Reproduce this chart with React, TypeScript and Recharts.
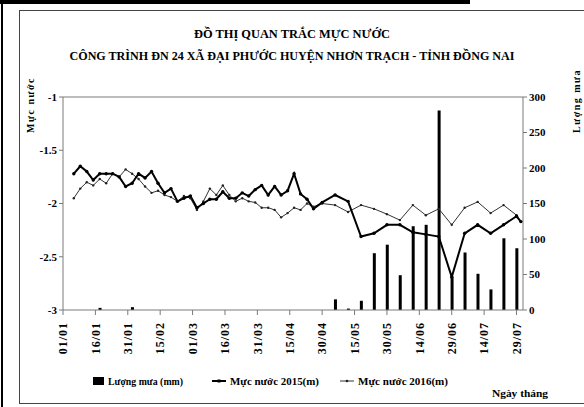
import {
  ComposedChart,
  Bar,
  Line,
  XAxis,
  YAxis,
  ReferenceLine,
} from 'recharts'

// ---------------------------------------------------------------------------
// Data (day = days since 01/01/2016)
// ---------------------------------------------------------------------------

const sampleDays = [
  5, 8, 11, 14, 17, 20, 23, 26, 29, 32, 35, 38, 41, 44, 47, 50, 53, 56, 59, 62,
  65, 68, 71, 74, 77, 80, 83, 86, 89, 92, 95, 98, 101, 104, 107, 110, 113, 116,
  120, 126, 132, 138, 144, 150, 156, 162, 168, 174, 180, 186, 192, 198, 204, 210, 212,
]

// Mực nước 2015 (m) – thick line
const level2015 = [
  -1.72, -1.65, -1.7, -1.78, -1.72, -1.72, -1.72, -1.75, -1.84, -1.81, -1.72, -1.76,
  -1.7, -1.81, -1.9, -1.86, -1.98, -1.95, -1.93, -2.04, -2.0, -1.96, -1.96, -1.89,
  -1.95, -1.95, -1.9, -1.93, -1.87, -1.83, -1.92, -1.84, -1.92, -1.88, -1.72, -1.91,
  -1.96, -2.05, -1.99, -1.92, -1.98, -2.31, -2.28, -2.2, -2.2, -2.27, -2.29, -2.31,
  -2.69, -2.28, -2.2, -2.28, -2.2, -2.12, -2.17,
]

// Mực nước 2016 (m) – thin line
const level2016 = [
  -1.95, -1.86, -1.8, -1.83, -1.77, -1.81, -1.72, -1.75, -1.68, -1.72, -1.77, -1.84,
  -1.9, -1.88, -1.92, -1.94, -1.98, -1.93, -1.95, -2.06, -1.98, -1.86, -1.92, -1.83,
  -1.92, -1.98, -1.95, -1.98, -1.99, -2.04, -2.04, -2.06, -2.13, -2.09, -2.04, -2.06,
  -2.0, -2.03, -2.0, -2.015, -2.08, -2.015, -2.05, -2.1, -2.156, -2.015, -2.11, -2.05,
  -2.2, -2.04, -1.985, -2.09, -2.015, -2.11, -2.17,
]

// Lượng mưa (mm)
const rainDays = [17, 32, 126, 132, 138, 144, 150, 156, 162, 168, 174, 180, 186, 192, 198, 204, 210]
const rainMm = [3, 4, 15, 2, 13, 80, 92, 49, 118, 120, 281, 47, 81, 51, 29, 101, 87]

const xTickDays = [0, 15, 30, 45, 60, 75, 90, 105, 120, 135, 150, 165, 180, 195, 210]
const xTickLabels = [
  '01/01', '16/01', '31/01', '15/02', '01/03', '16/03', '31/03', '15/04',
  '30/04', '15/05', '30/05', '14/06', '29/06', '14/07', '29/07',
]

const levelTicks = [-3, -2.5, -2, -1.5, -1]
const rainTicks = [0, 50, 100, 150, 200, 250, 300]

const chartData = sampleDays.map((day, i) => {
  const r = rainDays.indexOf(day)
  return {
    day,
    w2015: level2015[i],
    w2016: level2016[i],
    rain: r >= 0 ? rainMm[r] : null,
  }
})

const SERIF = '"Liberation Serif", "Times New Roman", serif'
const AXIS_GRAY = '#7a7a7a'

// ---------------------------------------------------------------------------
// Ticks
// ---------------------------------------------------------------------------

function DateTick({ x, y, payload }: any) {
  const idx = xTickDays.indexOf(payload.value)
  return (
    <g transform={`translate(${x},${y + 5})`}>
      <text
        transform="rotate(-90)"
        textAnchor="end"
        dy="0.35em"
        fontFamily={SERIF}
        fontWeight="bold"
        fontSize={12}
        letterSpacing={1}
        fill="#000"
      >
        {idx >= 0 ? xTickLabels[idx] : ''}
      </text>
    </g>
  )
}

const tickStyle = { fontSize: 11, fontWeight: 'bold', fill: '#000', fontFamily: SERIF }

// ---------------------------------------------------------------------------
// App
// ---------------------------------------------------------------------------

export default function App() {
  return (
    <div style={{ position: 'absolute', left: 0, top: 0, width: 584, height: 407, background: '#fff' }}>
      <ComposedChart
        width={584}
        height={407}
        data={chartData}
        margin={{ top: 97, right: 21, bottom: 47, left: 23 }}
      >
        <XAxis
          dataKey="day"
          type="number"
          domain={[0, 213]}
          ticks={xTickDays}
          interval={0}
          tick={<DateTick />}
          tickSize={5}
          height={50}
          stroke={AXIS_GRAY}
        />
        <YAxis
          yAxisId="left"
          domain={[-3, -1]}
          ticks={levelTicks}
          width={40}
          tickSize={4}
          tick={tickStyle}
          stroke={AXIS_GRAY}
        />
        <YAxis
          yAxisId="right"
          orientation="right"
          domain={[0, 300]}
          ticks={rainTicks}
          width={40}
          tickSize={4}
          tick={tickStyle}
          stroke={AXIS_GRAY}
        />
        <ReferenceLine yAxisId="left" y={-1} stroke={AXIS_GRAY} />
        <Bar yAxisId="right" dataKey="rain" fill="#000" barSize={3} isAnimationActive={false} />
        <Line
          yAxisId="left"
          dataKey="w2016"
          stroke="#333"
          strokeWidth={1}
          dot={{ r: 1.2, fill: '#222', stroke: 'none' }}
          connectNulls
          isAnimationActive={false}
        />
        <Line
          yAxisId="left"
          dataKey="w2015"
          stroke="#000"
          strokeWidth={2}
          dot={{ r: 1.7, fill: '#000', stroke: 'none' }}
          connectNulls
          isAnimationActive={false}
        />
      </ComposedChart>

      {/* frame, titles, axis names and legend */}
      <svg
        width={584}
        height={407}
        style={{ position: 'absolute', left: 0, top: 0, pointerEvents: 'none' }}
        fontFamily={SERIF}
        fontWeight="bold"
      >
        <rect x={0} y={0} width={470} height={4} fill="#000" />
        <rect x={1} y={0} width={2} height={407} fill="#000" />
        <rect x={19.5} y={10.5} width={570} height={393} fill="none" stroke="#444" />

        <text x={292} y={38} textAnchor="middle" fontSize={13} textLength={196} lengthAdjust="spacingAndGlyphs">
          ĐỒ THỊ QUAN TRẮC MỰC NƯỚC
        </text>
        <text x={292} y={60} textAnchor="middle" fontSize={13} textLength={445} lengthAdjust="spacingAndGlyphs">
          CÔNG TRÌNH ĐN 24 XÃ ĐẠI PHƯỚC HUYỆN NHƠN TRẠCH - TỈNH ĐỒNG NAI
        </text>

        <text transform="translate(34,133) rotate(-90)" fontSize={10} letterSpacing={1.5}>
          Mực nước
        </text>
        <text transform="translate(580,133) rotate(-90)" fontSize={10} letterSpacing={1.5}>
          Lượng mưa
        </text>

        <rect x={93} y={377} width={11} height={8} fill="#000" />
        <text x={108} y={385} fontSize={10} textLength={75} lengthAdjust="spacingAndGlyphs">
          Lượng mưa (mm)
        </text>
        <line x1={212} y1={381} x2={226} y2={381} stroke="#000" strokeWidth={2} />
        <rect x={217.5} y={379.5} width={3} height={3} fill="#000" />
        <text x={230} y={385} fontSize={10} textLength={89} lengthAdjust="spacingAndGlyphs">
          Mực nước 2015(m)
        </text>
        <line x1={340} y1={381} x2={354} y2={381} stroke="#333" strokeWidth={1} />
        <circle cx={347} cy={381} r={1.3} fill="#222" />
        <text x={358} y={385} fontSize={10} textLength={90} lengthAdjust="spacingAndGlyphs">
          Mực nước 2016(m)
        </text>
        <text x={492} y={397} fontSize={10} textLength={56} lengthAdjust="spacingAndGlyphs">
          Ngày tháng
        </text>
      </svg>
    </div>
  )
}
